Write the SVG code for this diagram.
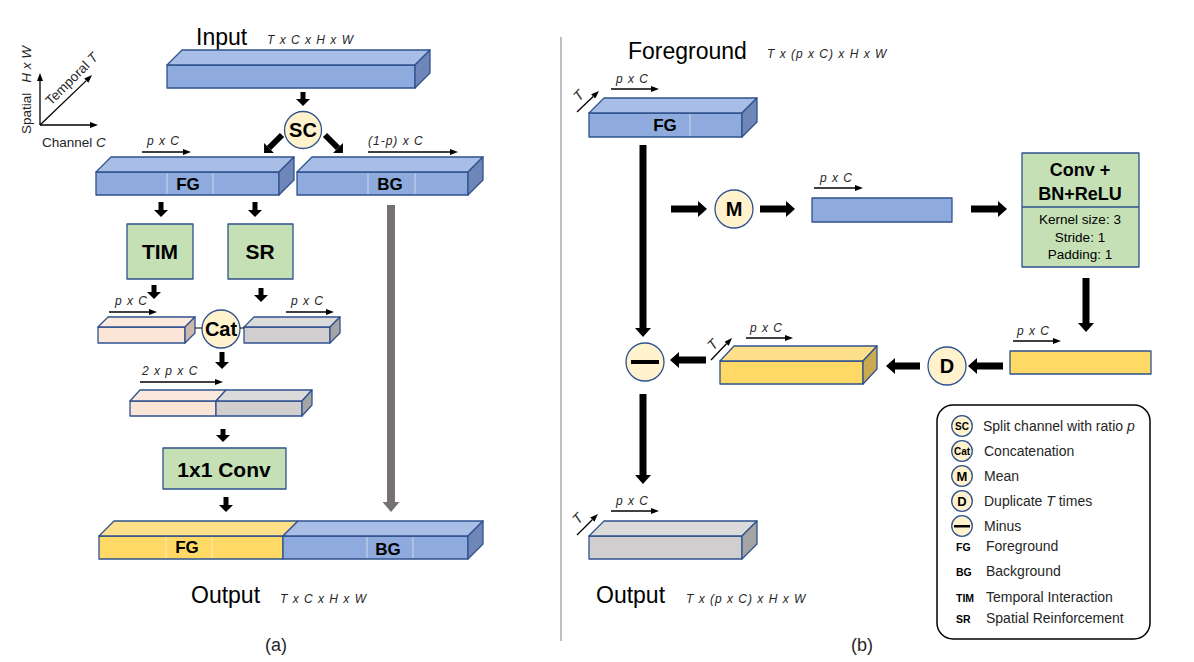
<svg xmlns="http://www.w3.org/2000/svg" width="1194" height="662" viewBox="0 0 1194 662">
<defs>
<style>
text{font-family:"Liberation Sans",Arial,sans-serif;fill:#000}
.h{font-size:23px}
.it{font-size:12px;font-style:italic;letter-spacing:1px;fill:#262626}
.tl{font-size:14px;font-style:italic;fill:#262626;text-anchor:middle}
.ax{font-size:13.5px;fill:#262626}
.nl{font-size:17px;font-weight:bold;text-anchor:middle}
.bx{font-size:21px;font-weight:bold;text-anchor:middle}
.cl{font-size:20px;font-weight:bold;text-anchor:middle}
.lg{font-size:14px;fill:#262626}
.lb{font-size:10.5px;font-weight:bold}
.lc{font-size:10px;font-weight:bold;text-anchor:middle}
.lm{font-size:13px;font-weight:bold;text-anchor:middle}
.cap{font-size:18px;text-anchor:middle;fill:#262626}
.e{stroke:#2F528F;stroke-width:1.3;stroke-linejoin:round}
.bf{fill:#8FAADC}.bt{fill:#A9BEE6}.bs{fill:#6F86B8}
.yf{fill:#FFD966}.yt{fill:#FFE08A}.ys{fill:#C8AA50}
.pf{fill:#FBE5D6}.pt{fill:#FCE9DD}.ps{fill:#CDB8AC}
.gf{fill:#D0CECE}.gt{fill:#DCDBDB}.gs{fill:#A5A5A5}
.gn{fill:#C5E0B4}
.ci{fill:#FFF2CC}
.wl{stroke:#fff;stroke-opacity:.55;stroke-width:1}
.k5{stroke:#000;stroke-width:5;marker-end:url(#ms)}
.k6{stroke:#000;stroke-width:6;marker-end:url(#ms)}
.k7{stroke:#000;stroke-width:7;marker-end:url(#mb)}
.gr{stroke:#767171;stroke-width:8;marker-end:url(#mg)}
.t{stroke:#000;stroke-width:1.3;marker-end:url(#mt)}
</style>
<marker id="ms" markerUnits="userSpaceOnUse" markerWidth="7" markerHeight="14" viewBox="0 0 7 14" refX="0" refY="7" orient="auto"><path d="M0,0L7,7L0,14Z" fill="#000"/></marker>
<marker id="mb" markerUnits="userSpaceOnUse" markerWidth="9" markerHeight="16" viewBox="0 0 9 16" refX="0" refY="8" orient="auto"><path d="M0,0L9,8L0,16Z" fill="#000"/></marker>
<marker id="mg" markerUnits="userSpaceOnUse" markerWidth="10" markerHeight="17" viewBox="0 0 10 17" refX="0" refY="8.5" orient="auto"><path d="M0,0L10,8.5L0,17Z" fill="#767171"/></marker>
<marker id="mt" markerUnits="userSpaceOnUse" markerWidth="8" markerHeight="6" viewBox="0 0 8 6" refX="0" refY="3" orient="auto"><path d="M0,0L8,3L0,6Z" fill="#000"/></marker>
</defs>
<rect width="1194" height="662" fill="#fff"/>

<!-- axes legend -->
<g id="axes">
<line x1="40" y1="125" x2="40" y2="81" class="t"/>
<line x1="40" y1="125" x2="90" y2="125" class="t"/>
<line x1="40" y1="125" x2="86.3" y2="80.6" class="t"/>
<text class="ax" transform="translate(31,134) rotate(-90)">Spatial<tspan dx="10" font-style="italic">H x W</tspan></text>
<text class="ax" transform="translate(51,106) rotate(-45)">Temporal <tspan font-style="italic">T</tspan></text>
<text class="ax" x="42" y="147">Channel <tspan font-style="italic">C</tspan></text>
</g>

<line id="divider" x1="561" y1="37" x2="561" y2="641" stroke="#7F7F7F" stroke-width="1"/>

<!-- (a) nodes -->
<g id="input-a">
<text class="h" x="196" y="45">Input</text>
<text class="it" x="267" y="44">T x C x H x W</text>
<rect x="167" y="65" width="248" height="23" class="bf e"/>
<polygon points="167,65 182,50 430,50 415,65" class="bt e"/>
<polygon points="415,65 430,50 430,73 415,88" class="bs e"/>
</g>
<g id="sc">
<circle cx="303" cy="130" r="18.5" class="ci e"/>
<text class="cl" x="303" y="137">SC</text>
</g>
<g id="fg-a">
<rect x="96" y="172" width="183" height="23" class="bf e"/>
<polygon points="96,172 111,157 294,157 279,172" class="bt e"/>
<polygon points="279,172 294,157 294,180 279,195" class="bs e"/>
<path d="M167,173V194M213,173V194" class="wl"/>
<text class="nl" x="188" y="190">FG</text>
</g>
<g id="bg-a">
<rect x="297" y="172" width="171" height="23" class="bf e"/>
<polygon points="297,172 312,157 483,157 468,172" class="bt e"/>
<polygon points="468,172 483,157 483,180 468,195" class="bs e"/>
<path d="M368,173V194M415,173V194" class="wl"/>
<text class="nl" x="390" y="190">BG</text>
</g>
<g id="tim">
<rect x="127" y="224" width="66" height="55" class="gn e"/>
<text class="bx" x="160" y="259">TIM</text>
</g>
<g id="sr">
<rect x="228" y="224" width="65" height="55" class="gn e"/>
<text class="bx" x="260" y="259">SR</text>
</g>
<g id="tim-out">
<rect x="98" y="327" width="87" height="16" class="pf e"/>
<polygon points="98,327 108,317 195,317 185,327" class="pt e"/>
<polygon points="185,327 195,317 195,333 185,343" class="ps e"/>
</g>
<g id="sr-out">
<rect x="244" y="327" width="86" height="16" class="gf e"/>
<polygon points="244,327 254,317 340,317 330,327" class="gt e"/>
<polygon points="330,327 340,317 340,333 330,343" class="gs e"/>
</g>
<g id="cat">
<circle cx="221" cy="329" r="19" class="ci e"/>
<text class="cl" x="221" y="336">Cat</text>
</g>
<g id="merged">
<rect x="130" y="401" width="86" height="15" class="pf e"/>
<rect x="216" y="401" width="86" height="15" class="gf e"/>
<polygon points="130,401 140,390 226,390 216,401" class="pt e"/>
<polygon points="216,401 226,390 312,390 302,401" class="gt e"/>
<polygon points="302,401 312,390 312,405 302,416" class="gs e"/>
</g>
<g id="conv1x1">
<rect x="163" y="448" width="123" height="41" class="gn e"/>
<text class="bx" x="224" y="477">1x1 Conv</text>
</g>
<g id="output-a">
<rect x="99" y="536" width="184" height="23" class="yf e"/>
<rect x="283" y="536" width="185" height="23" class="bf e"/>
<polygon points="99,536 114,521 298,521 283,536" class="yt e"/>
<polygon points="283,536 298,521 483,521 468,536" class="bt e"/>
<polygon points="468,536 483,521 483,544 468,559" class="bs e"/>
<path d="M166,537V558M212,537V558M367,537V558M413,537V558" class="wl"/>
<text class="nl" x="187" y="553">FG</text>
<text class="nl" x="388" y="555">BG</text>
<text class="h" x="191" y="603">Output</text>
<text class="it" x="280" y="603">T x C x H x W</text>
</g>
<text class="cap" x="276" y="651">(a)</text>

<!-- (b) nodes -->
<g id="fg-b">
<text class="h" x="628" y="59">Foreground</text>
<text class="it" x="767" y="58">T x (p x C) x H x W</text>
<rect x="589" y="113" width="153" height="24" class="bf e"/>
<polygon points="589,113 604,98 757,98 742,113" class="bt e"/>
<polygon points="742,113 757,98 757,122 742,137" class="bs e"/>
<path d="M690,114V136" class="wl"/>
<text class="nl" x="665" y="131">FG</text>
</g>
<g id="mean">
<circle cx="734" cy="209" r="19" class="ci e"/>
<text class="cl" x="734" y="216">M</text>
</g>
<g id="pooled">
<rect x="812" y="198" width="140" height="24" class="bf e"/>
</g>
<g id="conv-bn">
<rect x="1022" y="153" width="117" height="114" class="gn e"/>
<line x1="1022" y1="207" x2="1139" y2="207" class="e"/>
<text x="1080" y="176" font-size="18" font-weight="bold" text-anchor="middle">Conv +</text>
<text x="1080" y="200" font-size="18" font-weight="bold" text-anchor="middle">BN+ReLU</text>
<text x="1080" y="224" font-size="13.5" text-anchor="middle" fill="#262626">Kernel size: 3</text>
<text x="1080" y="242" font-size="13.5" text-anchor="middle" fill="#262626">Stride: 1</text>
<text x="1080" y="259" font-size="13.5" text-anchor="middle" fill="#262626">Padding: 1</text>
</g>
<g id="conv-out">
<rect x="1010" y="351" width="141" height="23" class="yf e"/>
</g>
<g id="dup">
<circle cx="947" cy="366" r="19" class="ci e"/>
<text class="cl" x="947" y="373">D</text>
</g>
<g id="dup-out">
<rect x="720" y="361" width="143" height="23" class="yf e"/>
<polygon points="720,361 734,346 877,346 863,361" class="yt e"/>
<polygon points="863,361 877,346 877,369 863,384" class="ys e"/>
</g>
<g id="minus">
<circle cx="645" cy="362" r="19" class="ci e"/>
<rect x="631" y="360" width="28" height="4" fill="#000"/>
</g>
<g id="output-b">
<rect x="589" y="536" width="153" height="23" class="gf e"/>
<polygon points="589,536 604,521 757,521 742,536" class="gt e"/>
<polygon points="742,536 757,521 757,544 742,559" class="gs e"/>
<text class="h" x="596" y="603">Output</text>
<text class="it" x="686" y="603">T x (p x C) x H x W</text>
</g>
<text class="cap" x="862" y="651">(b)</text>

<!-- dimension annotations -->
<g id="dims">
<text class="it" x="147" y="145">p x C</text>
<line x1="142" y1="152" x2="183" y2="152" class="t"/>
<text class="it" x="368" y="145">(1-p) x C</text>
<line x1="368" y1="152" x2="450" y2="152" class="t"/>
<text class="it" x="115" y="305">p x C</text>
<line x1="109" y1="312" x2="149" y2="312" class="t"/>
<text class="it" x="291" y="305">p x C</text>
<line x1="286" y1="312" x2="326" y2="312" class="t"/>
<text class="it" x="142" y="375">2 x p x C</text>
<line x1="140" y1="382" x2="215" y2="382" class="t"/>
<text class="it" x="616" y="83">p x C</text>
<line x1="611" y1="89" x2="651" y2="89" class="t"/>
<line x1="577" y1="112" x2="593.2" y2="96.5" class="t"/>
<text class="tl" transform="translate(582,99) rotate(-45)">T</text>
<text class="it" x="820" y="182">p x C</text>
<line x1="814" y1="188" x2="855" y2="188" class="t"/>
<text class="it" x="1017" y="335">p x C</text>
<line x1="1013" y1="341" x2="1053" y2="341" class="t"/>
<text class="it" x="750" y="332">p x C</text>
<line x1="746" y1="338" x2="785" y2="338" class="t"/>
<line x1="711" y1="360" x2="726.5" y2="343.8" class="t"/>
<text class="tl" transform="translate(716,348) rotate(-45)">T</text>
<text class="it" x="616" y="505">p x C</text>
<line x1="611" y1="511" x2="651" y2="511" class="t"/>
<line x1="577" y1="535" x2="592.3" y2="519.7" class="t"/>
<text class="tl" transform="translate(581,522) rotate(-45)">T</text>
</g>

<!-- connectors -->
<g id="connectors">
<line x1="303" y1="92" x2="303" y2="99" class="k5"/>
<line x1="282" y1="135" x2="269" y2="148" class="k6"/>
<line x1="325" y1="135" x2="338" y2="148" class="k6"/>
<line x1="161" y1="202" x2="161" y2="210" class="k5"/>
<line x1="255" y1="202" x2="255" y2="210" class="k5"/>
<line x1="154" y1="285" x2="154" y2="292" class="k5"/>
<line x1="261" y1="288" x2="261" y2="295" class="k5"/>
<line x1="195" y1="328" x2="202" y2="328" stroke="#000" stroke-width="1"/>
<line x1="240" y1="328" x2="244" y2="328" stroke="#000" stroke-width="1"/>
<line x1="222" y1="352" x2="222" y2="362" class="k5"/>
<line x1="223" y1="429" x2="223" y2="435" class="k5"/>
<line x1="226" y1="497" x2="226" y2="505" class="k5"/>
<line x1="391" y1="205" x2="391" y2="502" class="gr"/>
<line x1="643" y1="145" x2="643" y2="328" class="k7"/>
<line x1="643" y1="394" x2="643" y2="475" class="k7"/>
<line x1="671" y1="209" x2="698" y2="209" class="k7"/>
<line x1="760" y1="209" x2="786" y2="209" class="k7"/>
<line x1="971" y1="209" x2="998" y2="209" class="k7"/>
<line x1="1086" y1="278" x2="1086" y2="323" class="k7"/>
<line x1="1003" y1="366" x2="977" y2="366" class="k7"/>
<line x1="920" y1="366" x2="895" y2="366" class="k7"/>
<line x1="706" y1="360" x2="679" y2="360" class="k7"/>
</g>

<!-- legend -->
<g id="legend">
<rect x="937" y="405" width="213" height="234" rx="16" fill="#fff" stroke="#000" stroke-width="1.5"/>
<circle cx="962" cy="426" r="10.3" class="ci e"/>
<text class="lc" x="962" y="430">SC</text>
<text class="lg" x="983" y="431">Split channel with ratio <tspan font-style="italic">p</tspan></text>
<circle cx="962" cy="451" r="10.3" class="ci e"/>
<text class="lc" x="962" y="455">Cat</text>
<text class="lg" x="984" y="456">Concatenation</text>
<circle cx="962" cy="476" r="10.3" class="ci e"/>
<text class="lm" x="962" y="481">M</text>
<text class="lg" x="984" y="481">Mean</text>
<circle cx="962" cy="501" r="10.3" class="ci e"/>
<text class="lm" x="962" y="506">D</text>
<text class="lg" x="984" y="506">Duplicate <tspan font-style="italic">T</tspan> times</text>
<circle cx="962" cy="526" r="10.3" class="ci e"/>
<rect x="954" y="525" width="16" height="2.5" fill="#000"/>
<text class="lg" x="984" y="531">Minus</text>
<text class="lb" x="956" y="551">FG</text>
<text class="lg" x="986" y="551">Foreground</text>
<text class="lb" x="956" y="576">BG</text>
<text class="lg" x="986" y="576">Background</text>
<text class="lb" x="956" y="602">TIM</text>
<text class="lg" x="986" y="602">Temporal Interaction</text>
<text class="lb" x="956" y="623">SR</text>
<text class="lg" x="986" y="623">Spatial Reinforcement</text>
</g>
</svg>
